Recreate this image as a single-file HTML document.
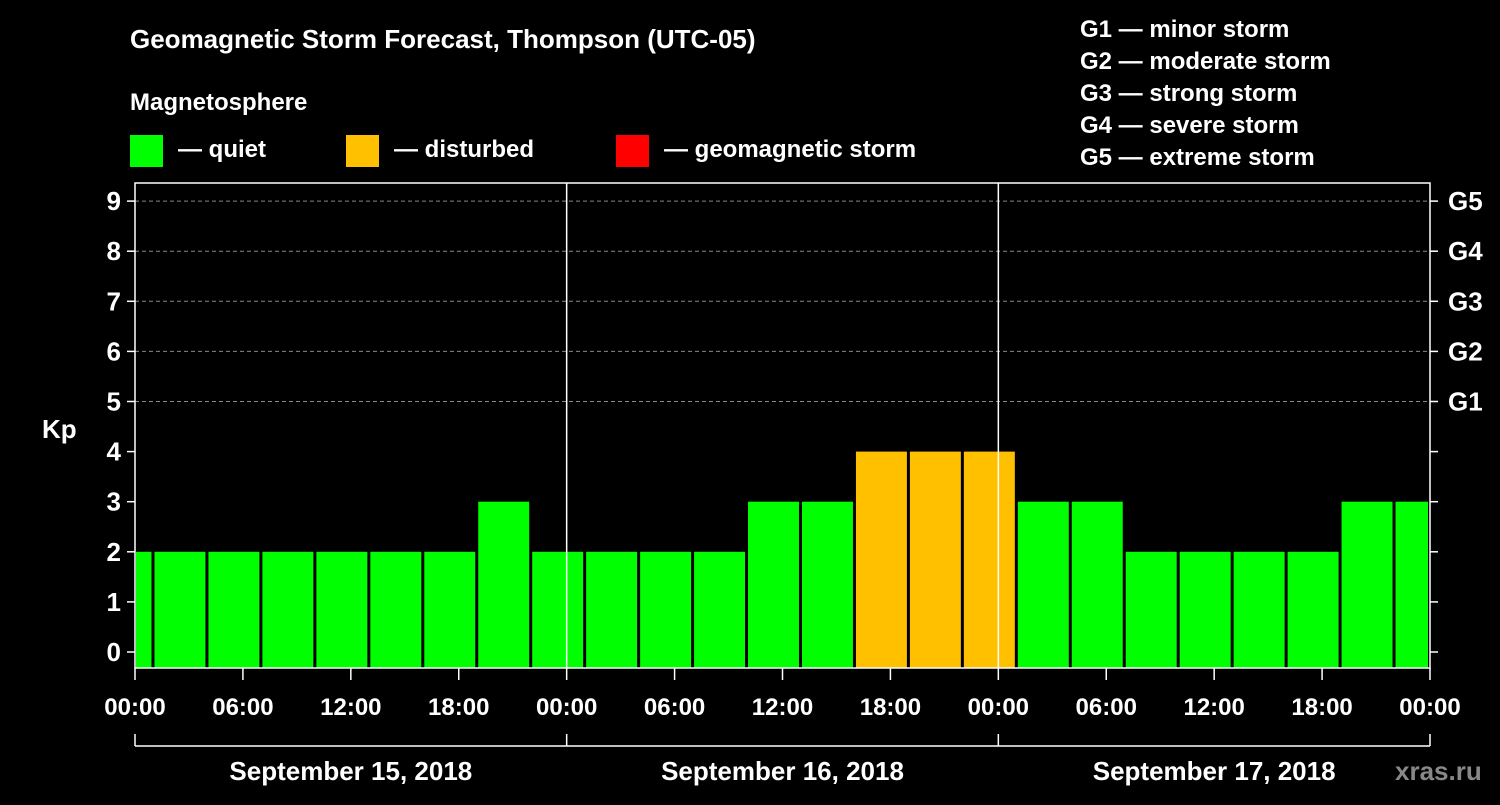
<!DOCTYPE html>
<html><head><meta charset="utf-8"><style>
body{margin:0;background:#000;width:1500px;height:800px;overflow:hidden}
svg text{font-family:"Liberation Sans",Arial,sans-serif;font-weight:bold;fill:#fff}
</style></head><body>
<svg id="c" width="1500" height="800">
<text x="130" y="48" font-size="26">Geomagnetic Storm Forecast, Thompson (UTC-05)</text>
<text x="130" y="110" font-size="24">Magnetosphere</text>
<g><rect x="130" y="135" width="33" height="32" fill="#00ff00"/><text x="178" y="157" font-size="24">— quiet</text></g>
<g><rect x="346" y="135" width="33" height="32" fill="#ffc000"/><text x="394" y="157" font-size="24">— disturbed</text></g>
<g><rect x="616" y="135" width="33" height="32" fill="#ff0000"/><text x="664" y="157" font-size="24">— geomagnetic storm</text></g>
<g font-size="24">
<text x="1080" y="37" font-size="24">G1 — minor storm</text>
<text x="1080" y="69" font-size="24">G2 — moderate storm</text>
<text x="1080" y="101" font-size="24">G3 — strong storm</text>
<text x="1080" y="133" font-size="24">G4 — severe storm</text>
<text x="1080" y="165" font-size="24">G5 — extreme storm</text>
</g>
<text x="42" y="438" font-size="26">Kp</text>
<text x="1395" y="780" font-size="26" fill="#777" style="fill:#888">xras.ru</text>
<g id="plot"></g>
</svg>
<script>
const kpValues=[2,2,2,2,2,2,2,3,2,2,2,2,3,3,4,4,4,3,3,2,2,2,2,3,3];
const binStartHours=[-2,1,4,7,10,13,16,19,22,25,28,31,34,37,40,43,46,49,52,55,58,61,64,67,70];
const yTicks=[0,1,2,3,4,5,6,7,8,9];
const gLabels=["G1","G2","G3","G4","G5"];
const hourLabels=["00:00","06:00","12:00","18:00","00:00","06:00","12:00","18:00","00:00","06:00","12:00","18:00","00:00"];
const dayLabels=["September 15, 2018","September 16, 2018","September 17, 2018"];
const X0=135,X1=1430,TOP=183,BOT=668;
const x=h=>X0+(h)*(X1-X0)/72;
const y=k=>652-k*50.1;
const NS="http://www.w3.org/2000/svg";
const p=document.getElementById('plot');
function mk(t,a){const e=document.createElementNS(NS,t);for(const k in a)e.setAttribute(k,a[k]);p.appendChild(e);return e;}
// bars
kpValues.forEach((v,i)=>{
 let a=x(binStartHours[i])+1.5,b=x(binStartHours[i]+3)-1.5;
 a=Math.max(a,X0+1);b=Math.min(b,X1-2);
 const r=mk('rect',{x:a,y:y(v),width:b-a,height:BOT-y(v),fill:v>=5?'#ff0000':v>=4?'#ffc000':'#00ff00'});
 
 
});
// grid
yTicks.forEach(k=>{
 if(k>=5){const g=mk('line',{x1:X0,x2:X1,y1:y(k),y2:y(k),stroke:'#888','stroke-dasharray':'4,3','stroke-width':1});
 }
 mk('line',{x1:X0-8,x2:X0,y1:y(k),y2:y(k),stroke:'#fff','stroke-width':1.5});
 mk('line',{x1:X1,x2:X1+8,y1:y(k),y2:y(k),stroke:'#fff','stroke-width':1.5});
 const t=mk('text',{x:X0-14,y:y(k)+9,'font-size':26,'text-anchor':'end'});t.textContent=k;
 
 if(k>=5){const g=mk('text',{x:X1+18,y:y(k)+9,'font-size':26});g.textContent=gLabels[k-5];
 }
});
// frame
const f=mk('rect',{x:X0,y:TOP,width:X1-X0,height:BOT-TOP,fill:'none',stroke:'#fff','stroke-width':1.5});

[24,48].forEach(h=>mk('line',{x1:x(h),x2:x(h),y1:TOP,y2:BOT,stroke:'#fff','stroke-width':1.5}));
// x ticks
hourLabels.forEach((l,i)=>{
 const h=i*6;
 mk('line',{x1:x(h),x2:x(h),y1:BOT,y2:BOT+12,stroke:'#fff','stroke-width':1.5});
 const t=mk('text',{x:x(h),y:715,'font-size':24,'text-anchor':'middle'});t.textContent=l;
 
});
mk('line',{x1:X0,x2:X1,y1:746,y2:746,stroke:'#fff','stroke-width':1.5});
[0,24,48,72].forEach(h=>mk('line',{x1:x(h),x2:x(h),y1:734,y2:746,stroke:'#fff','stroke-width':1.5}));
dayLabels.forEach((d,i)=>{
 const t=mk('text',{x:x(i*24+12),y:780,'font-size':26,'text-anchor':'middle'});t.textContent=d;
 
});
</script>
</body></html>
